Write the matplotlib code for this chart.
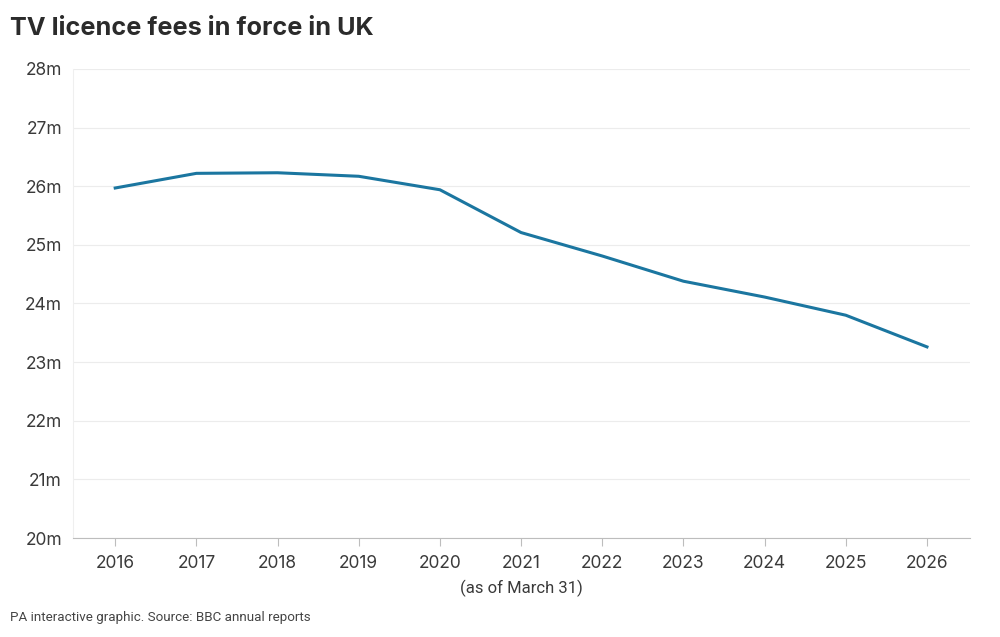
import matplotlib
matplotlib.use("Agg")
import matplotlib.pyplot as plt

years = [2016, 2017, 2018, 2019, 2020, 2021, 2022, 2023, 2024, 2025, 2026]
licences_m = [25.97, 26.22, 26.23, 26.17, 25.94, 25.21, 24.81, 24.38, 24.11, 23.80, 23.26]
y_ticks = [20, 21, 22, 23, 24, 25, 26, 27, 28]
y_labels = [f"{v}m" for v in y_ticks]

plt.rcParams['font.family'] = ['Inter', 'DejaVu Sans']

fig = plt.figure(figsize=(10, 6.37), dpi=100)
ax = fig.add_axes([0.073, 0.1554, 0.897, 0.7363])

ax.plot(years, licences_m, color='#1b76a0', linewidth=2.2, solid_joinstyle='round')

ax.set_xlim(2015.48, 2026.53)
ax.set_ylim(20, 28)
ax.set_xticks(years)
ax.set_xticklabels([str(y) for y in years])
ax.set_yticks(y_ticks)
ax.set_yticklabels(y_labels)

ax.grid(axis='y', color='#ececec', linewidth=0.8)
ax.set_axisbelow(True)
for s in ['top', 'right']:
    ax.spines[s].set_visible(False)
ax.spines['left'].set_color('#efefef')
ax.spines['bottom'].set_color('#bdbdbd')
ax.tick_params(axis='x', colors='#bdbdbd', length=6, labelcolor='#3a3a3a', labelsize=12.5, pad=6)
ax.tick_params(axis='y', length=0, labelcolor='#3a3a3a', labelsize=12.5, pad=8)

ax.set_xlabel('(as of March 31)', fontsize=12, color='#3a3a3a', labelpad=6,
              family=['Roboto', 'DejaVu Sans'])

fig.text(0.01, 0.955, 'TV licence fees in force in UK', fontsize=18.2, fontweight='bold',
         color='#2b2b2b', va='center')
fig.text(0.01, 0.03, 'PA interactive graphic. Source: BBC annual reports', fontsize=9.6,
         color='#444444', va='center', family=['Roboto', 'DejaVu Sans'])

fig.savefig('out.png', dpi=100, facecolor='white')
